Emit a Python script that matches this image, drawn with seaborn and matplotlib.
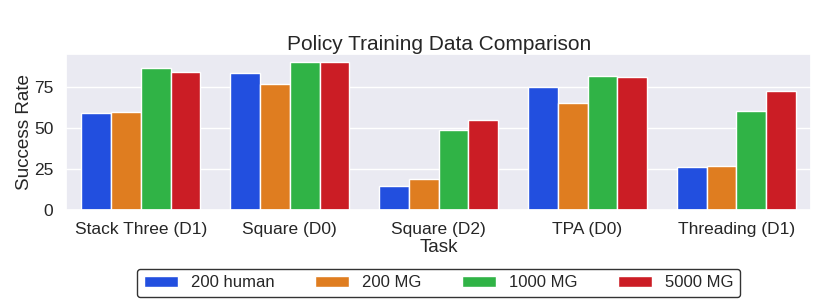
import pandas as pd
import matplotlib.pyplot as plt
import seaborn as sns

tasks = ["Stack Three (D1)", "Square (D0)", "Square (D2)", "TPA (D0)", "Threading (D1)"]
sources = ["200 human", "200 MG", "1000 MG", "5000 MG"]
human_200 = [59.3, 83.9, 14.9, 75.2, 26.3]
mg_200 = [60.0, 77.2, 19.0, 65.2, 26.9]
mg_1000 = [86.6, 90.7, 48.9, 81.9, 60.5]
mg_5000 = [84.5, 90.7, 55.0, 81.1, 72.5]

rows = []
for name, vals in zip(sources, [human_200, mg_200, mg_1000, mg_5000]):
    for t, v in zip(tasks, vals):
        rows.append({"Task": t, "Data": name, "Success Rate": v})
df = pd.DataFrame(rows)

sns.set_theme(style="darkgrid")
plt.rcParams['font.family'] = ['Liberation Sans', 'DejaVu Sans']

fig, ax = plt.subplots(figsize=(8.3, 3.02), dpi=100)
sns.barplot(data=df, x="Task", y="Success Rate", hue="Data", palette="bright", ax=ax)
ax.set_title("Policy Training Data Comparison", fontsize=15, pad=3)
ax.set_xlabel("Task", fontsize=13.6, labelpad=1.5)
ax.set_ylabel("Success Rate", fontsize=13.6, labelpad=0.5)
ax.tick_params(axis="both", labelsize=12.5)
ax.tick_params(axis="x", pad=3)
leg = ax.legend(loc="upper center", bbox_to_anchor=(0.5, -0.378), ncol=4, frameon=True,
                fontsize=12, columnspacing=2.4, handlelength=2.05, handletextpad=0.8,
                handleheight=0.72, borderpad=0.4, borderaxespad=0, fancybox=True)
leg.get_frame().set_edgecolor("black")
leg.get_frame().set_facecolor("white")
fig.subplots_adjust(left=0.08, right=0.977, top=0.82, bottom=0.305)
fig.savefig("out.png")
